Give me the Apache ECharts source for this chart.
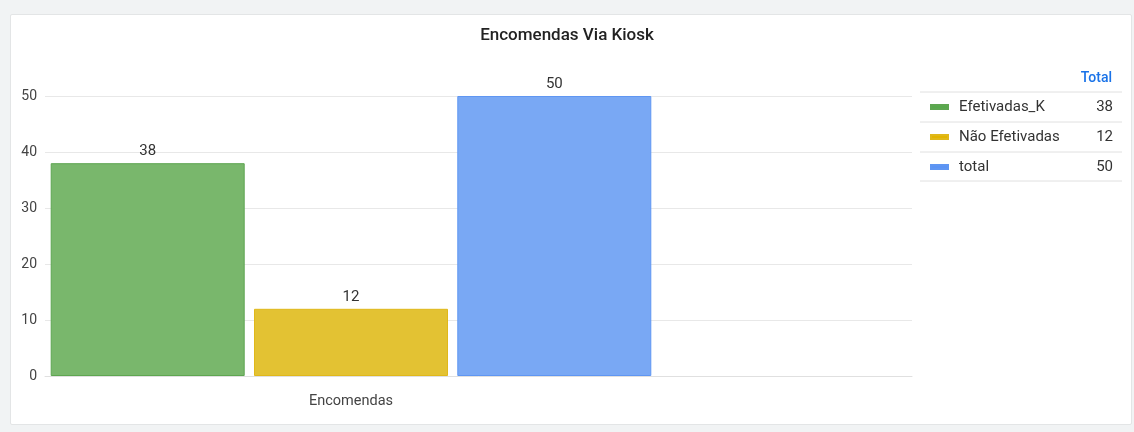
<!DOCTYPE html>
<html>
<head>
<meta charset="utf-8">
<script src="https://cdn.jsdelivr.net/npm/echarts@6/dist/echarts.min.js"></script>
<style>
  html, body { margin: 0; padding: 0; background: #f1f3f4; }
  #panel { position: absolute; left: 10px; top: 14px; width: 1120px; height: 409px; background: #fff; border: 1px solid #e3e5e6; border-radius: 2px; }
  #chart { position: absolute; left: 0; top: 0; width: 1134px; height: 432px; }
</style>
</head>
<body>
<div id="panel"></div>
<div id="chart"></div>
<script>
const titleText = 'Encomendas Via Kiosk';
const categories = ['Encomendas'];
const seriesNames = ['Efetivadas_K', 'Não Efetivadas', 'total'];
const seriesValues = [38, 12, 50];
const legendHeader = 'Total';
const yMin = 0, yMax = 50, yInterval = 10;

const fillColors = ['#79b76c', '#e3c233', '#79a8f4'];
const borderColors = ['#5ea651', '#e0b81a', '#5f96f2'];
const legendColors = ['#57a94c', '#e2b400', '#5b93f4'];

const font = 'Roboto, "Noto Sans", sans-serif';
const valueMap = {};
seriesNames.forEach((n, i) => valueMap[n] = seriesValues[i]);

const chart = echarts.init(document.getElementById('chart'), null, { renderer: 'canvas' });

const series = seriesNames.map((name, i) => ({
  name: name,
  type: 'bar',
  xAxisIndex: 1,
  yAxisIndex: 1,
  data: [seriesValues[i]],
  barWidth: 194,
  barGap: '4.8%',
  itemStyle: { color: fillColors[i], borderColor: borderColors[i], borderWidth: 1 },
  label: { show: true, position: 'top', distance: 4, color: '#333', fontSize: 15, fontFamily: font },
  emphasis: { disabled: true }
}));

chart.setOption({
  animation: false,
  textStyle: { fontFamily: font },
  title: {
    text: titleText, left: 'center', top: 22,
    textStyle: { fontSize: 17, fontWeight: 500, color: '#222', fontFamily: font }
  },
  legend: {
    orient: 'vertical',
    left: 930, top: 92,
    padding: 0,
    itemWidth: 17, itemHeight: 4, itemGap: 0,
    icon: 'rect',
    selectedMode: false,
    data: seriesNames.map((n, i) => ({ name: n, itemStyle: { color: legendColors[i] } })),
    formatter: n => '{n|' + n + '}{v|' + valueMap[n] + '}',
    textStyle: {
      lineHeight: 30, height: 30,
      rich: {
        n: { width: 130, padding: [0, 0, 0, 6], color: '#333', fontSize: 15, fontFamily: font, lineHeight: 30, height: 30 },
        v: { width: 24, align: 'right', color: '#333', fontSize: 15, fontFamily: font, lineHeight: 30, height: 30 }
      }
    }
  },
  graphic: [
    { type: 'text', right: 22, top: 71, style: { text: legendHeader, fill: '#1a73e8', font: '500 14px ' + font } },
    ...[92, 122, 152, 181].map(y => ({
      type: 'line', shape: { x1: 920, y1: y, x2: 1122, y2: y }, style: { stroke: '#e0e0e0', lineWidth: 1 }, silent: true
    }))
  ],
  grid: [
    { left: 45, right: 222, top: 96, bottom: 56 },
    { left: 45, right: 477, top: 96, bottom: 56 }
  ],
  xAxis: [
    { type: 'category', gridIndex: 0, data: categories, axisLabel: { show: false }, axisTick: { show: false },
      axisLine: { show: true, lineStyle: { color: '#e0e0e0' } } },
    { type: 'category', gridIndex: 1, data: categories, axisTick: { show: false }, axisLine: { show: false },
      axisLabel: { color: '#444', fontSize: 14.5, margin: 18, fontFamily: font } }
  ],
  yAxis: [
    { type: 'value', gridIndex: 0, min: yMin, max: yMax, interval: yInterval,
      axisLabel: { color: '#444', fontSize: 14, margin: 8, fontFamily: font },
      axisLine: { show: false }, axisTick: { show: false },
      splitLine: { lineStyle: { color: '#e8e8e8' } } },
    { type: 'value', gridIndex: 1, min: yMin, max: yMax, interval: yInterval, show: false, splitLine: { show: false } }
  ],
  series: series
});
</script>
</body>
</html>
